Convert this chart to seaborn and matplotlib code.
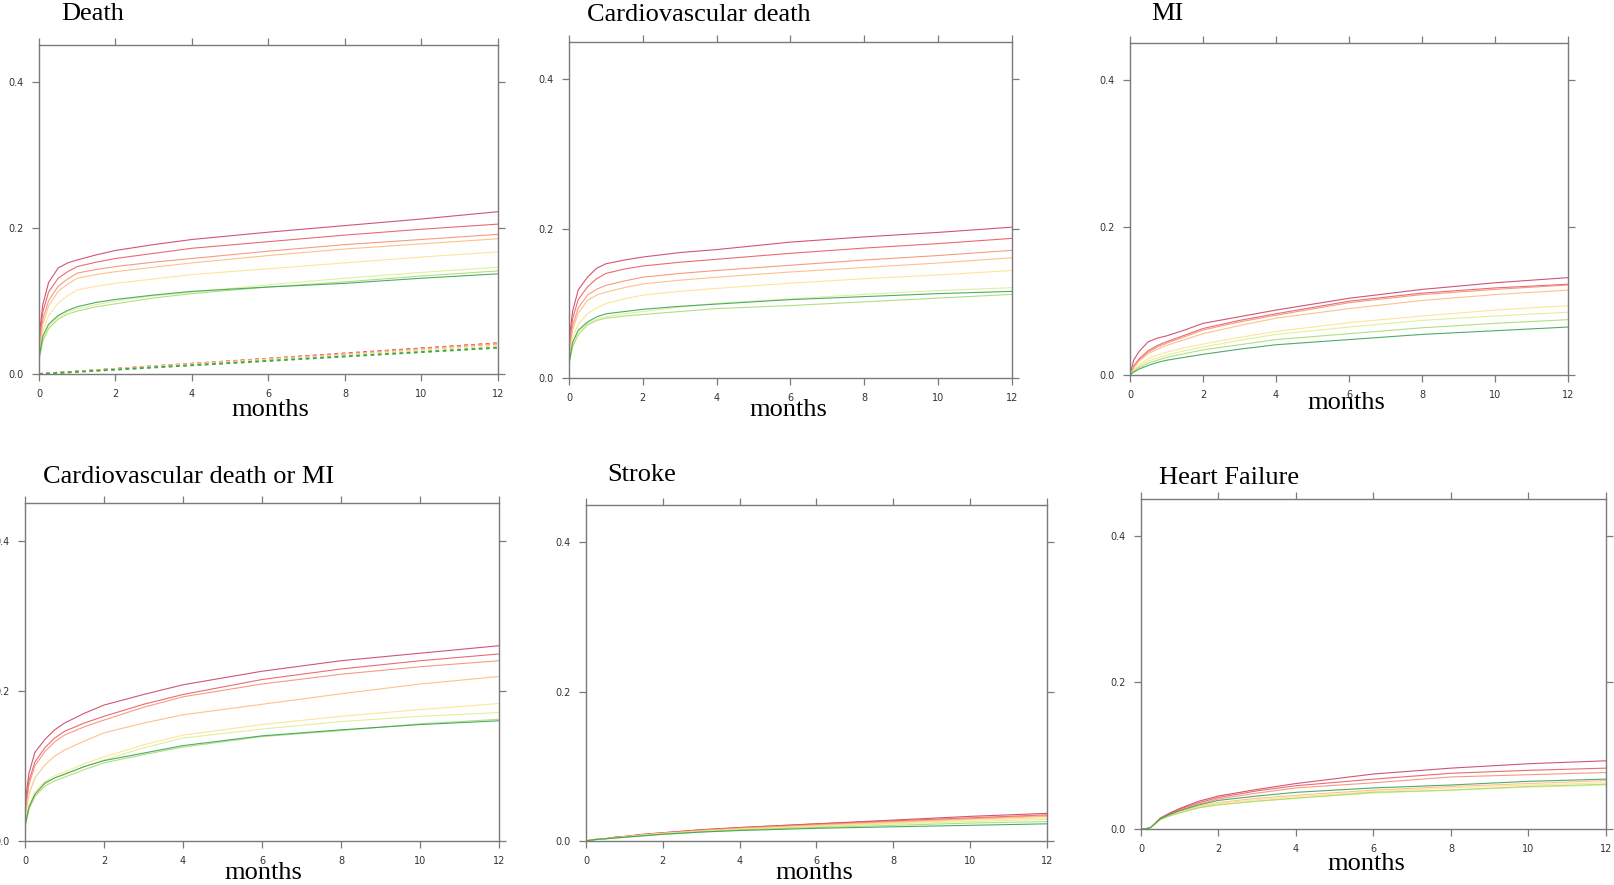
import matplotlib
matplotlib.use("Agg")
import matplotlib.pyplot as plt
import seaborn as sns
import pandas as pd

months = [0, 0.1, 0.25, 0.5, 0.75, 1, 1.5, 2, 3, 4, 6, 8, 10, 12]
groups = ["g1", "g2", "g3", "g4", "g5", "g6", "g7", "g8"]
colors = ["#c8385c", "#e8505a", "#f58a6b", "#fdb77a", "#fee08b", "#d9ef8b", "#a6d96a", "#2e9e50"]

death = [
    [0.05, 0.095, 0.125, 0.145, 0.152, 0.156, 0.163, 0.169, 0.177, 0.184, 0.194, 0.203, 0.212, 0.222],
    [0.04, 0.085, 0.112, 0.131, 0.140, 0.147, 0.153, 0.158, 0.165, 0.172, 0.181, 0.190, 0.198, 0.205],
    [0.035, 0.075, 0.100, 0.120, 0.130, 0.138, 0.143, 0.147, 0.153, 0.158, 0.168, 0.177, 0.184, 0.191],
    [0.03, 0.068, 0.093, 0.113, 0.123, 0.131, 0.136, 0.140, 0.146, 0.152, 0.162, 0.171, 0.178, 0.185],
    [0.025, 0.058, 0.080, 0.097, 0.107, 0.115, 0.120, 0.124, 0.130, 0.136, 0.144, 0.152, 0.160, 0.167],
    [0.02, 0.048, 0.065, 0.078, 0.085, 0.089, 0.095, 0.100, 0.107, 0.112, 0.122, 0.131, 0.139, 0.146],
    [0.018, 0.045, 0.062, 0.075, 0.082, 0.086, 0.092, 0.096, 0.104, 0.110, 0.119, 0.126, 0.134, 0.141],
    [0.022, 0.052, 0.068, 0.080, 0.087, 0.092, 0.098, 0.102, 0.108, 0.113, 0.119, 0.124, 0.131, 0.137],
]
# expected mortality (dashed) in the Death panel
exp_months = [0, 4, 8, 12]
death_expected = [
    [0, 0.014, 0.028, 0.042],
    [0, 0.014, 0.028, 0.042],
    [0, 0.014, 0.027, 0.041],
    [0, 0.014, 0.027, 0.041],
    [0, 0.013, 0.026, 0.039],
    [0, 0.012, 0.025, 0.037],
    [0, 0.012, 0.024, 0.036],
    [0, 0.012, 0.024, 0.036],
]
cv_death = [
    [0.05, 0.09, 0.118, 0.135, 0.147, 0.153, 0.158, 0.162, 0.168, 0.172, 0.182, 0.189, 0.195, 0.202],
    [0.04, 0.08, 0.105, 0.122, 0.133, 0.140, 0.146, 0.150, 0.155, 0.159, 0.167, 0.174, 0.180, 0.187],
    [0.035, 0.07, 0.094, 0.111, 0.119, 0.124, 0.130, 0.135, 0.140, 0.144, 0.151, 0.158, 0.164, 0.171],
    [0.03, 0.065, 0.087, 0.104, 0.111, 0.115, 0.121, 0.126, 0.131, 0.135, 0.142, 0.148, 0.154, 0.161],
    [0.025, 0.055, 0.072, 0.086, 0.094, 0.0997, 0.106, 0.111, 0.116, 0.120, 0.127, 0.133, 0.138, 0.144],
    [0.02, 0.045, 0.062, 0.073, 0.079, 0.082, 0.086, 0.089, 0.095, 0.100, 0.106, 0.112, 0.117, 0.121],
    [0.018, 0.042, 0.058, 0.071, 0.077, 0.080, 0.083, 0.085, 0.089, 0.093, 0.097, 0.102, 0.107, 0.112],
    [0.02, 0.048, 0.064, 0.075, 0.082, 0.086, 0.089, 0.092, 0.096, 0.099, 0.105, 0.109, 0.113, 0.116],
]
mi = [
    [0, 0.02, 0.032, 0.045, 0.050, 0.053, 0.061, 0.070, 0.079, 0.088, 0.104, 0.116, 0.125, 0.132],
    [0, 0.012, 0.022, 0.033, 0.040, 0.045, 0.054, 0.063, 0.074, 0.083, 0.100, 0.111, 0.118, 0.123],
    [0, 0.01, 0.020, 0.031, 0.038, 0.043, 0.052, 0.061, 0.072, 0.081, 0.098, 0.109, 0.116, 0.122],
    [0, 0.01, 0.019, 0.029, 0.035, 0.040, 0.048, 0.056, 0.067, 0.077, 0.090, 0.101, 0.109, 0.115],
    [0, 0.007, 0.014, 0.022, 0.027, 0.031, 0.037, 0.042, 0.051, 0.059, 0.071, 0.080, 0.088, 0.094],
    [0, 0.006, 0.012, 0.019, 0.023, 0.027, 0.033, 0.038, 0.047, 0.055, 0.065, 0.074, 0.080, 0.085],
    [0, 0.005, 0.010, 0.016, 0.020, 0.024, 0.029, 0.034, 0.041, 0.048, 0.056, 0.064, 0.070, 0.075],
    [0, 0.004, 0.008, 0.013, 0.017, 0.020, 0.024, 0.028, 0.035, 0.041, 0.048, 0.055, 0.060, 0.065],
]
cv_death_mi = [
    [0.05, 0.09, 0.118, 0.135, 0.148, 0.157, 0.170, 0.181, 0.195, 0.208, 0.226, 0.240, 0.250, 0.260],
    [0.04, 0.08, 0.105, 0.124, 0.137, 0.146, 0.157, 0.166, 0.182, 0.195, 0.215, 0.229, 0.240, 0.249],
    [0.035, 0.075, 0.100, 0.119, 0.132, 0.141, 0.152, 0.161, 0.178, 0.192, 0.209, 0.222, 0.232, 0.240],
    [0.03, 0.062, 0.084, 0.101, 0.113, 0.121, 0.133, 0.144, 0.157, 0.168, 0.182, 0.196, 0.209, 0.219],
    [0.022, 0.048, 0.065, 0.079, 0.087, 0.092, 0.103, 0.112, 0.128, 0.141, 0.155, 0.166, 0.175, 0.183],
    [0.02, 0.045, 0.062, 0.076, 0.084, 0.088, 0.099, 0.108, 0.124, 0.137, 0.149, 0.159, 0.166, 0.171],
    [0.018, 0.042, 0.059, 0.073, 0.080, 0.085, 0.095, 0.104, 0.115, 0.125, 0.139, 0.147, 0.156, 0.162],
    [0.02, 0.045, 0.062, 0.077, 0.084, 0.089, 0.099, 0.107, 0.117, 0.127, 0.140, 0.148, 0.155, 0.160],
]
stroke = [
    [0, 0.001, 0.002, 0.003, 0.005, 0.006, 0.009, 0.011, 0.015, 0.018, 0.023, 0.028, 0.033, 0.037],
    [0, 0.001, 0.002, 0.003, 0.005, 0.006, 0.009, 0.011, 0.015, 0.018, 0.023, 0.027, 0.031, 0.035],
    [0, 0.001, 0.002, 0.003, 0.005, 0.006, 0.008, 0.011, 0.014, 0.017, 0.022, 0.026, 0.030, 0.034],
    [0, 0.001, 0.002, 0.003, 0.004, 0.006, 0.008, 0.010, 0.014, 0.017, 0.021, 0.025, 0.029, 0.033],
    [0, 0.001, 0.002, 0.003, 0.004, 0.005, 0.008, 0.010, 0.013, 0.016, 0.020, 0.024, 0.028, 0.031],
    [0, 0.001, 0.002, 0.003, 0.004, 0.005, 0.008, 0.010, 0.013, 0.015, 0.019, 0.023, 0.026, 0.029],
    [0, 0.001, 0.002, 0.003, 0.004, 0.005, 0.007, 0.009, 0.012, 0.015, 0.018, 0.021, 0.024, 0.026],
    [0, 0.001, 0.002, 0.003, 0.004, 0.005, 0.007, 0.009, 0.012, 0.014, 0.017, 0.019, 0.021, 0.023],
]
heart_failure = [
    [0, 0, 0.002, 0.015, 0.022, 0.028, 0.038, 0.045, 0.054, 0.062, 0.075, 0.083, 0.089, 0.093],
    [0, 0, 0.002, 0.014, 0.021, 0.027, 0.036, 0.043, 0.052, 0.059, 0.068, 0.076, 0.080, 0.083],
    [0, 0, 0.002, 0.014, 0.020, 0.026, 0.034, 0.041, 0.049, 0.056, 0.063, 0.071, 0.074, 0.077],
    [0, 0, 0.002, 0.013, 0.019, 0.024, 0.031, 0.036, 0.042, 0.046, 0.053, 0.058, 0.062, 0.066],
    [0, 0, 0.002, 0.013, 0.019, 0.023, 0.030, 0.035, 0.040, 0.044, 0.051, 0.056, 0.060, 0.063],
    [0, 0, 0.002, 0.013, 0.018, 0.022, 0.029, 0.033, 0.038, 0.042, 0.049, 0.053, 0.057, 0.060],
    [0, 0, 0.002, 0.013, 0.018, 0.022, 0.029, 0.033, 0.038, 0.042, 0.050, 0.053, 0.058, 0.061],
    [0, 0, 0.002, 0.014, 0.020, 0.025, 0.033, 0.039, 0.045, 0.050, 0.056, 0.060, 0.065, 0.068],
]

titles = ["Death", "Cardiovascular death", "MI",
          "Cardiovascular death or MI", "Stroke", "Heart Failure"]
panel_data = [death, cv_death, mi, cv_death_mi, stroke, heart_failure]

W, H = 1615, 885
# axes box in pixels: left, right, top, bottom
boxes = [(39, 498, 45, 374), (569, 1012, 42, 378), (1130, 1568, 43, 375),
         (25, 499, 503, 841), (586, 1047, 505, 841), (1141, 1606, 499, 829)]
# title left x / centre y, and "months" centre x / y
title_pos = [(61, 14), (587, 15), (1151, 14), (43, 477), (607, 475), (1159, 478)]
xlabel_pos = [(270, 410), (788, 410), (1346, 403), (263, 873), (814, 873), (1366, 864)]


def long_frame(curves, t):
    rows = []
    for g, vals in zip(groups, curves):
        for m, v in zip(t, vals):
            rows.append({"month": m, "risk": v, "group": g})
    return pd.DataFrame(rows)


sns.set_style("ticks")
fig = plt.figure(figsize=(W / 100, H / 100), dpi=100)

serif = ["Liberation Serif", "DejaVu Serif"]
for i, (title, curves) in enumerate(zip(titles, panel_data)):
    l, r, t, b = boxes[i]
    ax = fig.add_axes([l / W, 1 - b / H, (r - l) / W, (b - t) / H])
    sns.lineplot(data=long_frame(curves, months), x="month", y="risk", hue="group",
                 palette=colors, legend=False, estimator=None, lw=0.8, alpha=0.85, ax=ax)
    if i == 0:
        sns.lineplot(data=long_frame(death_expected, exp_months), x="month", y="risk",
                     hue="group", palette=colors, legend=False, estimator=None,
                     lw=1.3, alpha=0.9, linestyle=(0, (2, 2)), ax=ax)
    ax.set_xlim(0, 12)
    ax.set_ylim(0, 0.45)
    ax.set_xticks(range(0, 13, 2))
    ax.set_yticks([0, 0.2, 0.4])
    ax.set_yticklabels(["0.0", "0.2", "0.4"])
    ax.set_xlabel("")
    ax.set_ylabel("")
    for s in ax.spines.values():
        s.set_visible(True)
        s.set_color("#7a7a7a")
        s.set_linewidth(1.0)
    ax.tick_params(top=True, right=True, direction="out", length=5, width=0.9,
                   color="#7a7a7a", labelsize=7, labelcolor="#333333", pad=6)

    tx, ty = title_pos[i]
    fig.text(tx / W, 1 - ty / H, title, family=serif, fontsize=19,
             ha="left", va="center", color="black")
    mx, my = xlabel_pos[i]
    fig.text(mx / W, 1 - my / H, "months", family=serif, fontsize=19,
             ha="center", va="center", color="black")

fig.savefig("out.png", dpi=100)
